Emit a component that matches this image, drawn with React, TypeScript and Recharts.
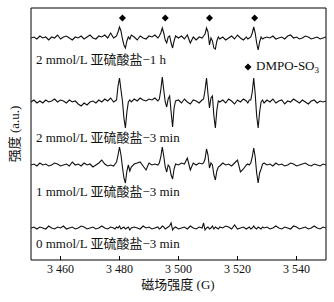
import React from "react";
import { ComposedChart, Line, Scatter, XAxis, YAxis, ReferenceArea } from "recharts";

// magnetic field sampling (G); finer steps around the DMPO-SO3 lines
const fields = [
  3450, 3451, 3452, 3453, 3454, 3455, 3456, 3457, 3458, 3459, 3460, 3461, 3462, 3463,
  3464, 3465, 3466, 3467, 3468, 3469, 3470, 3471, 3472, 3473, 3474, 3475, 3476, 3477,
  3478, 3478.5, 3479, 3479.5, 3480, 3480.5, 3481, 3481.5, 3482, 3482.5, 3483, 3483.5, 3484,
  3485, 3486, 3487, 3488, 3489, 3490, 3491, 3492,
  3493, 3493.5, 3494, 3494.5, 3495, 3495.5, 3496, 3496.5, 3497, 3497.5, 3498, 3498.5, 3499,
  3500, 3501, 3502, 3503, 3504, 3505, 3506, 3507,
  3508, 3508.5, 3509, 3509.5, 3510, 3510.5, 3511, 3511.5, 3512, 3512.5, 3513, 3513.5, 3514,
  3515, 3516, 3517, 3518, 3519, 3520, 3521, 3522,
  3523, 3523.5, 3524, 3524.5, 3525, 3525.5, 3526, 3526.5, 3527, 3527.5, 3528, 3528.5, 3529,
  3530, 3531, 3532, 3533, 3534, 3535, 3536, 3537, 3538, 3539, 3540, 3541, 3542, 3543,
  3544, 3545, 3546, 3547, 3548, 3549, 3550,
];

// 2 mmol/L sulfite, 1 h
const sulfite2mM1h = [
  0, 1, -1, 2, 0, 1, -2, 1, 0, 3, -1, 1, 2, 0, -2, 1, 0, 2, -1, 1, 3, 0, -1, 2, 1, 3, 0, 5,
  0, 1, 2, 6, 11, 7, -1, -7, -10, -3, 1, -1, 3,
  1, -2, 2, 0, -1, 2, 1, 3,
  0, 2, 5, 10, 5, -2, -5, 1, 2, -5, -10, -3, 2,
  0, 2, -1, 3, -5, 1, -2, 1,
  0, 2, 4, 10, 6, -7, 0, -3, -10, -11, -3, 1, -1,
  1, -2, 0, 2, -1, 3, 0, -2,
  1, -1, 0, 1, 5, 11, 5, -5, -12, -4, 1, -1, 0,
  1, 0, 2, -1, 0, 1, -1, 2, 3, 0, 1, -1, 0, 2, 1, -1, 0, 1, -1, 0, 1,
];

// 2 mmol/L sulfite, 3 min
const sulfite2mM3min = [
  0, 2, -1, 1, -1, 2, 0, 1, 3, 0, 2, 1, -1, 2, 0, 1, -2, -4, -1, -3, 0, 1, -1, 2, 0, 3, 1, 4,
  0, 1, 2, 16, 24, 12, 1, -16, -26, -10, 0, 2, 0,
  3, 1, 4, 2, 1, 3, 2, 4,
  1, 3, 12, 25, 12, 0, -5, 3, 6, -10, -25, -6, 1,
  2, -1, 3, 0, -2, 2, 1, -1,
  2, 3, 12, 24, 8, -6, 4, 6, -14, -26, -8, 1, 0,
  2, -1, 3, 1, -2, 2, 0, 3,
  1, -1, 2, 2, 10, 24, 8, -14, -26, -10, 0, 2, -1,
  2, 0, 3, -1, 1, 2, -2, 1, 0, 3, 1, -1, 2, 0, -2, 1, 2, -1, 1, 0, 1,
];

// 1 mmol/L sulfite, 3 min
const sulfite1mM3min = [
  0, 1, -1, 2, 0, 1, -1, 0, 2, 1, -1, 0, 1, -1, 3, 0, 1, -1, 2, 0, 1, -2, 0, 2, 5, 1, -1, 0,
  -1, 1, 3, 10, 18, 10, -2, -13, -18, -6, 0, -6, -2,
  1, 2, 3, -1, -5, 2, 0, 1,
  0, 2, 8, 18, 9, -2, -7, 0, -2, -10, -14, -4, 1,
  0, 2, 1, 7, -5, 2, 0, 2,
  1, 2, 6, 16, 10, -3, 2, 0, -10, -15, -6, -2, -1,
  2, 0, 1, -1, 2, 5, -7, -4,
  0, 1, 0, 2, 8, 17, 8, -8, -18, -8, -4, 1, 2,
  0, 1, -1, 2, 0, 1, -1, 0, 2, 1, -1, 0, 1, 2, 0, -1, 1, 0, -1, 1, 0,
];

// 0 mmol/L sulfite, 3 min
const sulfite0mM3min = [
  0, 1, -1, 1, 0, -1, 2, 0, -1, 1, 0, 2, -1, 0, 1, -1, 0, 2, 1, -1, 0, 1, -1, 0, 2, 0, -1, 1,
  0, -1, 1, 0, 2, -1, 0, 1, -1, 0, 1, -2, 0,
  1, 0, -1, 2, 0, 1, -1, 0,
  1, -1, 0, 2, 1, -1, 0, 1, 2, 5, -2, 0, 1,
  -1, 0, 1, -1, 2, 0, -1, 1,
  0, 5, -2, 0, 1, -1, 0, 2, -1, 1, 0, -1, 1,
  0, 2, 1, -1, 3, -1, 0, 1,
  -1, 0, 1, -1, 0, 2, 0, -1, 1, 0, -1, 1, 0,
  1, -1, 0, 2, 0, -1, 1, 0, -1, 2, 1, -1, 0, 1, -1, 0, 2, 0, -1, 1, 0,
];

const markerFields = [3481, 3495.5, 3510.5, 3525.8];
const xTicks = [3460, 3470, 3480, 3490, 3500, 3510, 3520, 3530, 3540];

// vertical stacking of the spectra
const OFFSETS = { a: 222, b: 158, c: 95, d: 32 };
const MARKER_LEVEL = 242;

const data = fields.map((f, i) => ({
  field: f,
  a: sulfite2mM1h[i] + OFFSETS.a,
  b: sulfite2mM3min[i] + OFFSETS.b,
  c: sulfite1mM3min[i] + OFFSETS.c,
  d: sulfite0mM3min[i] + OFFSETS.d,
}));
const markerData = markerFields.map((f) => ({ field: f, m: MARKER_LEVEL }));

const FONT = '"Liberation Serif", "Noto Sans CJK SC", serif';

const renderTick = (props: any) => {
  const { x, y, payload } = props;
  const v = payload.value as number;
  const major = v % 20 === 0;
  return (
    <g>
      <line x1={x} y1={y} x2={x} y2={y - (major ? 4 : 3)} stroke="#000" strokeWidth={1} />
      {major && (
        <text x={x} y={y + 13} textAnchor="middle" fontSize={12} fontFamily={FONT} fill="#111">
          {`${String(v).slice(0, 1)} ${String(v).slice(1)}`}
        </text>
      )}
    </g>
  );
};

const diamond = (props: any) => {
  const { cx, cy } = props;
  return <path d={`M${cx},${cy - 3.5}L${cx + 3.5},${cy}L${cx},${cy + 3.5}L${cx - 3.5},${cy}Z`} fill="#000" />;
};

const labelStyle: React.CSSProperties = {
  position: "absolute",
  left: 36,
  fontSize: 13,
  fontFamily: FONT,
  color: "#111",
  lineHeight: 1,
  transform: "translateY(-50%)",
  whiteSpace: "nowrap",
};

export default function App() {
  return (
    <div style={{ position: "absolute", left: 0, top: 0, width: 334, height: 302, background: "#fff" }}>
      <ComposedChart width={334} height={302} data={data} margin={{ top: 8, right: 8, bottom: 12, left: 31 }}>
        <XAxis
          dataKey="field"
          type="number"
          domain={[3450, 3550]}
          ticks={xTicks}
          tick={renderTick}
          tickSize={0}
          tickMargin={0}
          axisLine={false}
          tickLine={false}
          height={30}
          allowDataOverflow
        />
        <YAxis hide type="number" domain={[0, 252]} allowDataOverflow />
        <ReferenceArea x1={3450} x2={3550} y1={0} y2={252} fill="none" stroke="#000" strokeWidth={1} />
        <Line dataKey="a" type="linear" stroke="#111" strokeWidth={1.1} dot={false} isAnimationActive={false} />
        <Line dataKey="b" type="linear" stroke="#111" strokeWidth={1.1} dot={false} isAnimationActive={false} />
        <Line dataKey="c" type="linear" stroke="#111" strokeWidth={1.1} dot={false} isAnimationActive={false} />
        <Line dataKey="d" type="linear" stroke="#111" strokeWidth={1.1} dot={false} isAnimationActive={false} />
        <Scatter data={markerData} dataKey="m" shape={diamond} isAnimationActive={false} />
      </ComposedChart>

      <div style={{ ...labelStyle, top: 59 }}>2 mmol/L 亚硫酸盐−1 h</div>
      <div style={{ ...labelStyle, top: 137 }}>2 mmol/L 亚硫酸盐−3 min</div>
      <div style={{ ...labelStyle, top: 191 }}>1 mmol/L 亚硫酸盐−3 min</div>
      <div style={{ ...labelStyle, top: 243 }}>0 mmol/L 亚硫酸盐−3 min</div>

      <div style={{ ...labelStyle, left: 244, top: 67 }}>
        <svg width={8} height={8} style={{ verticalAlign: "middle", marginRight: 4 }}>
          <path d="M4,0.5L7.5,4L4,7.5L0.5,4Z" fill="#000" />
        </svg>
        DMPO-SO<sub style={{ fontSize: 9, verticalAlign: "-3px" }}>3</sub>
      </div>

      <div
        style={{
          position: "absolute",
          left: 14,
          top: 134,
          fontSize: 13,
          fontFamily: FONT,
          color: "#111",
          lineHeight: 1,
          whiteSpace: "nowrap",
          transform: "translate(-50%, -50%) rotate(-90deg)",
        }}
      >
        强度 (a.u.)
      </div>
      <div
        style={{
          position: "absolute",
          left: 178,
          top: 284,
          fontSize: 13,
          fontFamily: FONT,
          color: "#111",
          lineHeight: 1,
          whiteSpace: "nowrap",
          transform: "translate(-50%, -50%)",
        }}
      >
        磁场强度 (G)
      </div>
    </div>
  );
}
